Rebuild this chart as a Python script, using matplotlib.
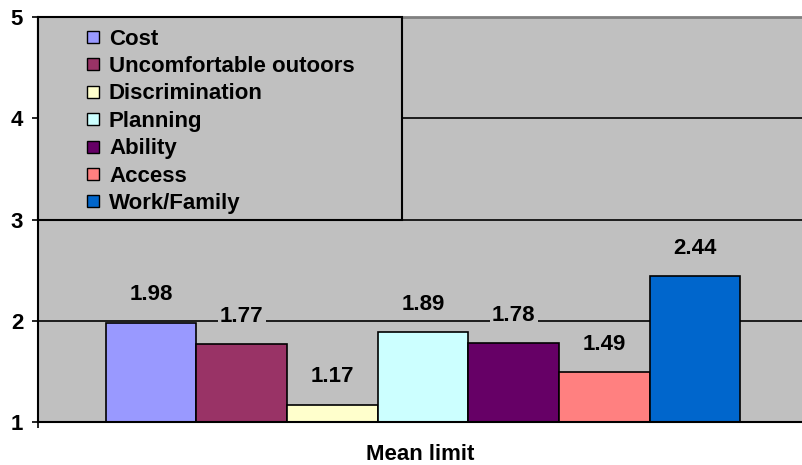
import matplotlib
matplotlib.use("Agg")
import matplotlib.pyplot as plt
from matplotlib.lines import Line2D
from matplotlib.patches import Rectangle

# Mean limit score for each constraint type
categories = ["Cost", "Uncomfortable outoors", "Discrimination", "Planning",
              "Ability", "Access", "Work/Family"]
values = [1.98, 1.77, 1.17, 1.89, 1.78, 1.49, 2.44]
colors = ["#9999FF", "#993366", "#FFFFCC", "#CCFFFF", "#660066", "#FF8080", "#0066CC"]
y_ticks = [1, 2, 3, 4, 5]
group_label = "Mean limit"

FONT = "Liberation Sans"
FS = 16
PLOT_BG = "#C0C0C0"

fig = plt.figure(figsize=(8.03, 4.65), dpi=100)
ax = fig.add_axes([0.047, 0.0925, 0.953, 0.8709])
ax.set_facecolor(PLOT_BG)

x = list(range(len(values)))
ax.bar(x, [v - 1 for v in values], bottom=1, width=1.0, color=colors,
       edgecolor="black", linewidth=1.2, zorder=2)

for xi, v in zip(x, values):
    ax.annotate(f"{v:.2f}", (xi, v), xytext=(0, 20), textcoords="offset points",
                ha="center", va="center", fontsize=FS, fontweight="bold",
                family=FONT, zorder=4,
                bbox=dict(boxstyle="square,pad=0.1", facecolor=PLOT_BG, edgecolor="none"))

ax.set_ylim(1, 5)
ax.set_xlim(-1.25, 7.19)
ax.set_yticks(y_ticks)
ax.set_yticklabels([str(t) for t in y_ticks], fontsize=FS, fontweight="bold", family=FONT)
ax.set_xticks([-1.25])
ax.set_xticklabels([""])
ax.tick_params(axis="both", direction="out", length=4.5, width=1.2, color="black")
ax.tick_params(axis="y", pad=6)
ax.set_xlabel(group_label, fontsize=FS, fontweight="bold", family=FONT, labelpad=8)

ax.grid(axis="y", color="black", linewidth=1.2)
ax.set_axisbelow(True)
for side in ["left", "bottom"]:
    ax.spines[side].set_color("black")
    ax.spines[side].set_linewidth(1.5)
ax.spines["top"].set_color("#808080")
ax.spines["top"].set_linewidth(2)
ax.spines["right"].set_visible(False)

# legend frame covering the upper left corner of the plot
ax.add_patch(Rectangle((0, 0.5), 0.476, 0.5, transform=ax.transAxes,
                       facecolor=PLOT_BG, edgecolor="black", linewidth=1.5,
                       zorder=3, clip_on=False))
handles = [Line2D([], [], linestyle="none", marker="s", markersize=8,
                  markerfacecolor=c, markeredgecolor="black", markeredgewidth=1)
           for c in colors]
leg = ax.legend(handles, categories, loc="upper left", bbox_to_anchor=(0.046, 1.0),
                frameon=False, handlelength=0.8, handletextpad=0.3,
                labelspacing=0.29, borderpad=0.52, borderaxespad=0,
                prop=dict(family=FONT, weight="bold", size=FS))
leg.set_zorder(5)

fig.savefig("out.png", dpi=100, facecolor="white")
